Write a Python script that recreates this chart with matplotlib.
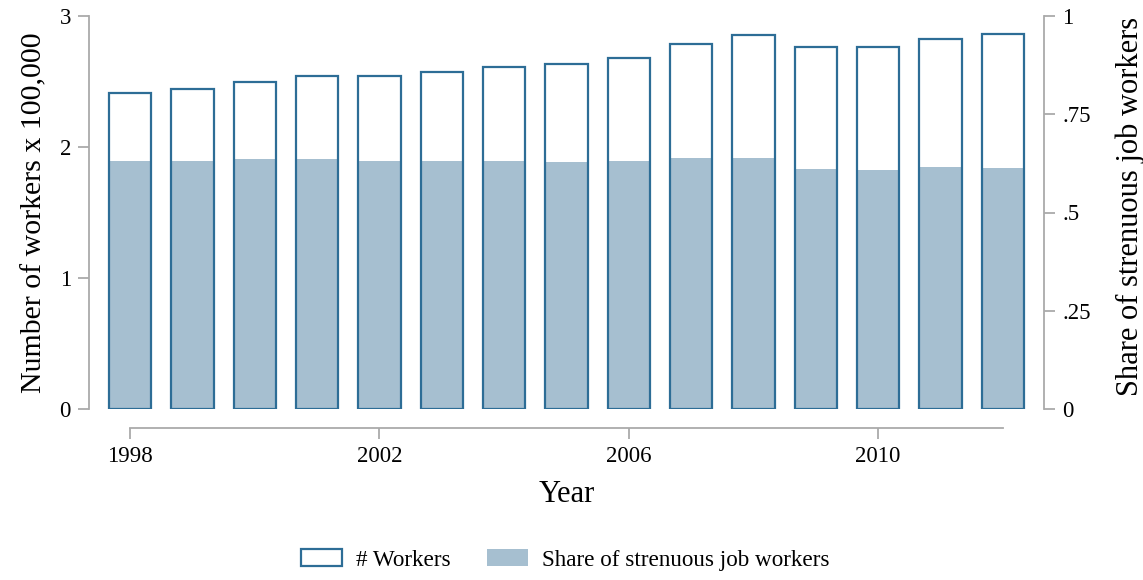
import matplotlib
matplotlib.use("Agg")
import matplotlib.pyplot as plt
from matplotlib.patches import Patch

plt.rcParams["font.family"] = ["Liberation Serif", "DejaVu Serif"]

years = list(range(1998, 2013))
workers = [2.41, 2.445, 2.494, 2.542, 2.545, 2.575, 2.61, 2.635, 2.68,
           2.789, 2.857, 2.766, 2.766, 2.827, 2.865]
share = [0.631, 0.631, 0.636, 0.636, 0.631, 0.631, 0.631, 0.628, 0.631,
         0.639, 0.639, 0.611, 0.608, 0.616, 0.613]

edge = "#2d6d96"
fill = "#a6bfd0"
axis_grey = "#aaaaaa"
bar_w = 0.68

fig = plt.figure(figsize=(11.43, 5.8), dpi=100)
ax = fig.add_axes([89 / 1143, 1 - 409 / 580, (1044 - 89) / 1143, (409 - 16) / 580])
ax2 = ax.twinx()

# share bars on the right axis, drawn beneath the outlined count bars
ax2.bar(years, share, width=bar_w, color=fill, edgecolor="none")
ax.bar(years, workers, width=bar_w, facecolor="none", edgecolor=edge, linewidth=1.6)
ax.set_zorder(ax2.get_zorder() + 1)
ax.patch.set_visible(False)

ax.set_xlim(1997.34, 2012.66)
ax.set_ylim(0, 3)
ax2.set_ylim(0, 1)

ax.set_yticks([0, 1, 2, 3])
ax.set_yticklabels(["0", "1", "2", "3"])
ax2.set_yticks([0, 0.25, 0.5, 0.75, 1])
ax2.set_yticklabels(["0", ".25", ".5", ".75", "1"])
ax.set_xticks([1998, 2002, 2006, 2010])

for a in (ax, ax2):
    for s in a.spines.values():
        s.set_visible(False)

ax.spines["left"].set_visible(True)
ax.spines["left"].set_color(axis_grey)
ax.spines["left"].set_linewidth(1.3)
ax.spines["bottom"].set_visible(True)
ax.spines["bottom"].set_color(axis_grey)
ax.spines["bottom"].set_linewidth(1.3)
ax.spines["bottom"].set_position(("outward", 13.7))
ax.spines["bottom"].set_bounds(1998, 2012)
ax2.spines["right"].set_visible(True)
ax2.spines["right"].set_color(axis_grey)
ax2.spines["right"].set_linewidth(1.3)

ax.tick_params(axis="both", direction="out", length=8, width=1.3, color=axis_grey,
               labelsize=16.5, pad=5)
ax2.tick_params(axis="y", direction="out", length=8, width=1.3, color=axis_grey,
                labelsize=16.5, pad=5)

ax.set_xlabel("Year", fontsize=22, labelpad=9)
ax.set_ylabel("Number of workers x 100,000", fontsize=21.5, labelpad=9)
ax2.set_ylabel("Share of strenuous job workers", fontsize=22, labelpad=16)
ax2.yaxis.set_label_coords(1.075, 0.515)

handles = [
    Patch(facecolor="white", edgecolor=edge, linewidth=1.6, label="# Workers"),
    Patch(facecolor=fill, edgecolor="none", label="Share of strenuous job workers"),
]
fig.legend(handles=handles, loc="center", bbox_to_anchor=(0.4945, 1 - 560 / 580),
           ncol=2, frameon=False, fontsize=16.7, handlelength=1.76, handleheight=0.73,
           columnspacing=1.6, handletextpad=0.6)

fig.savefig("out.png", dpi=100)
